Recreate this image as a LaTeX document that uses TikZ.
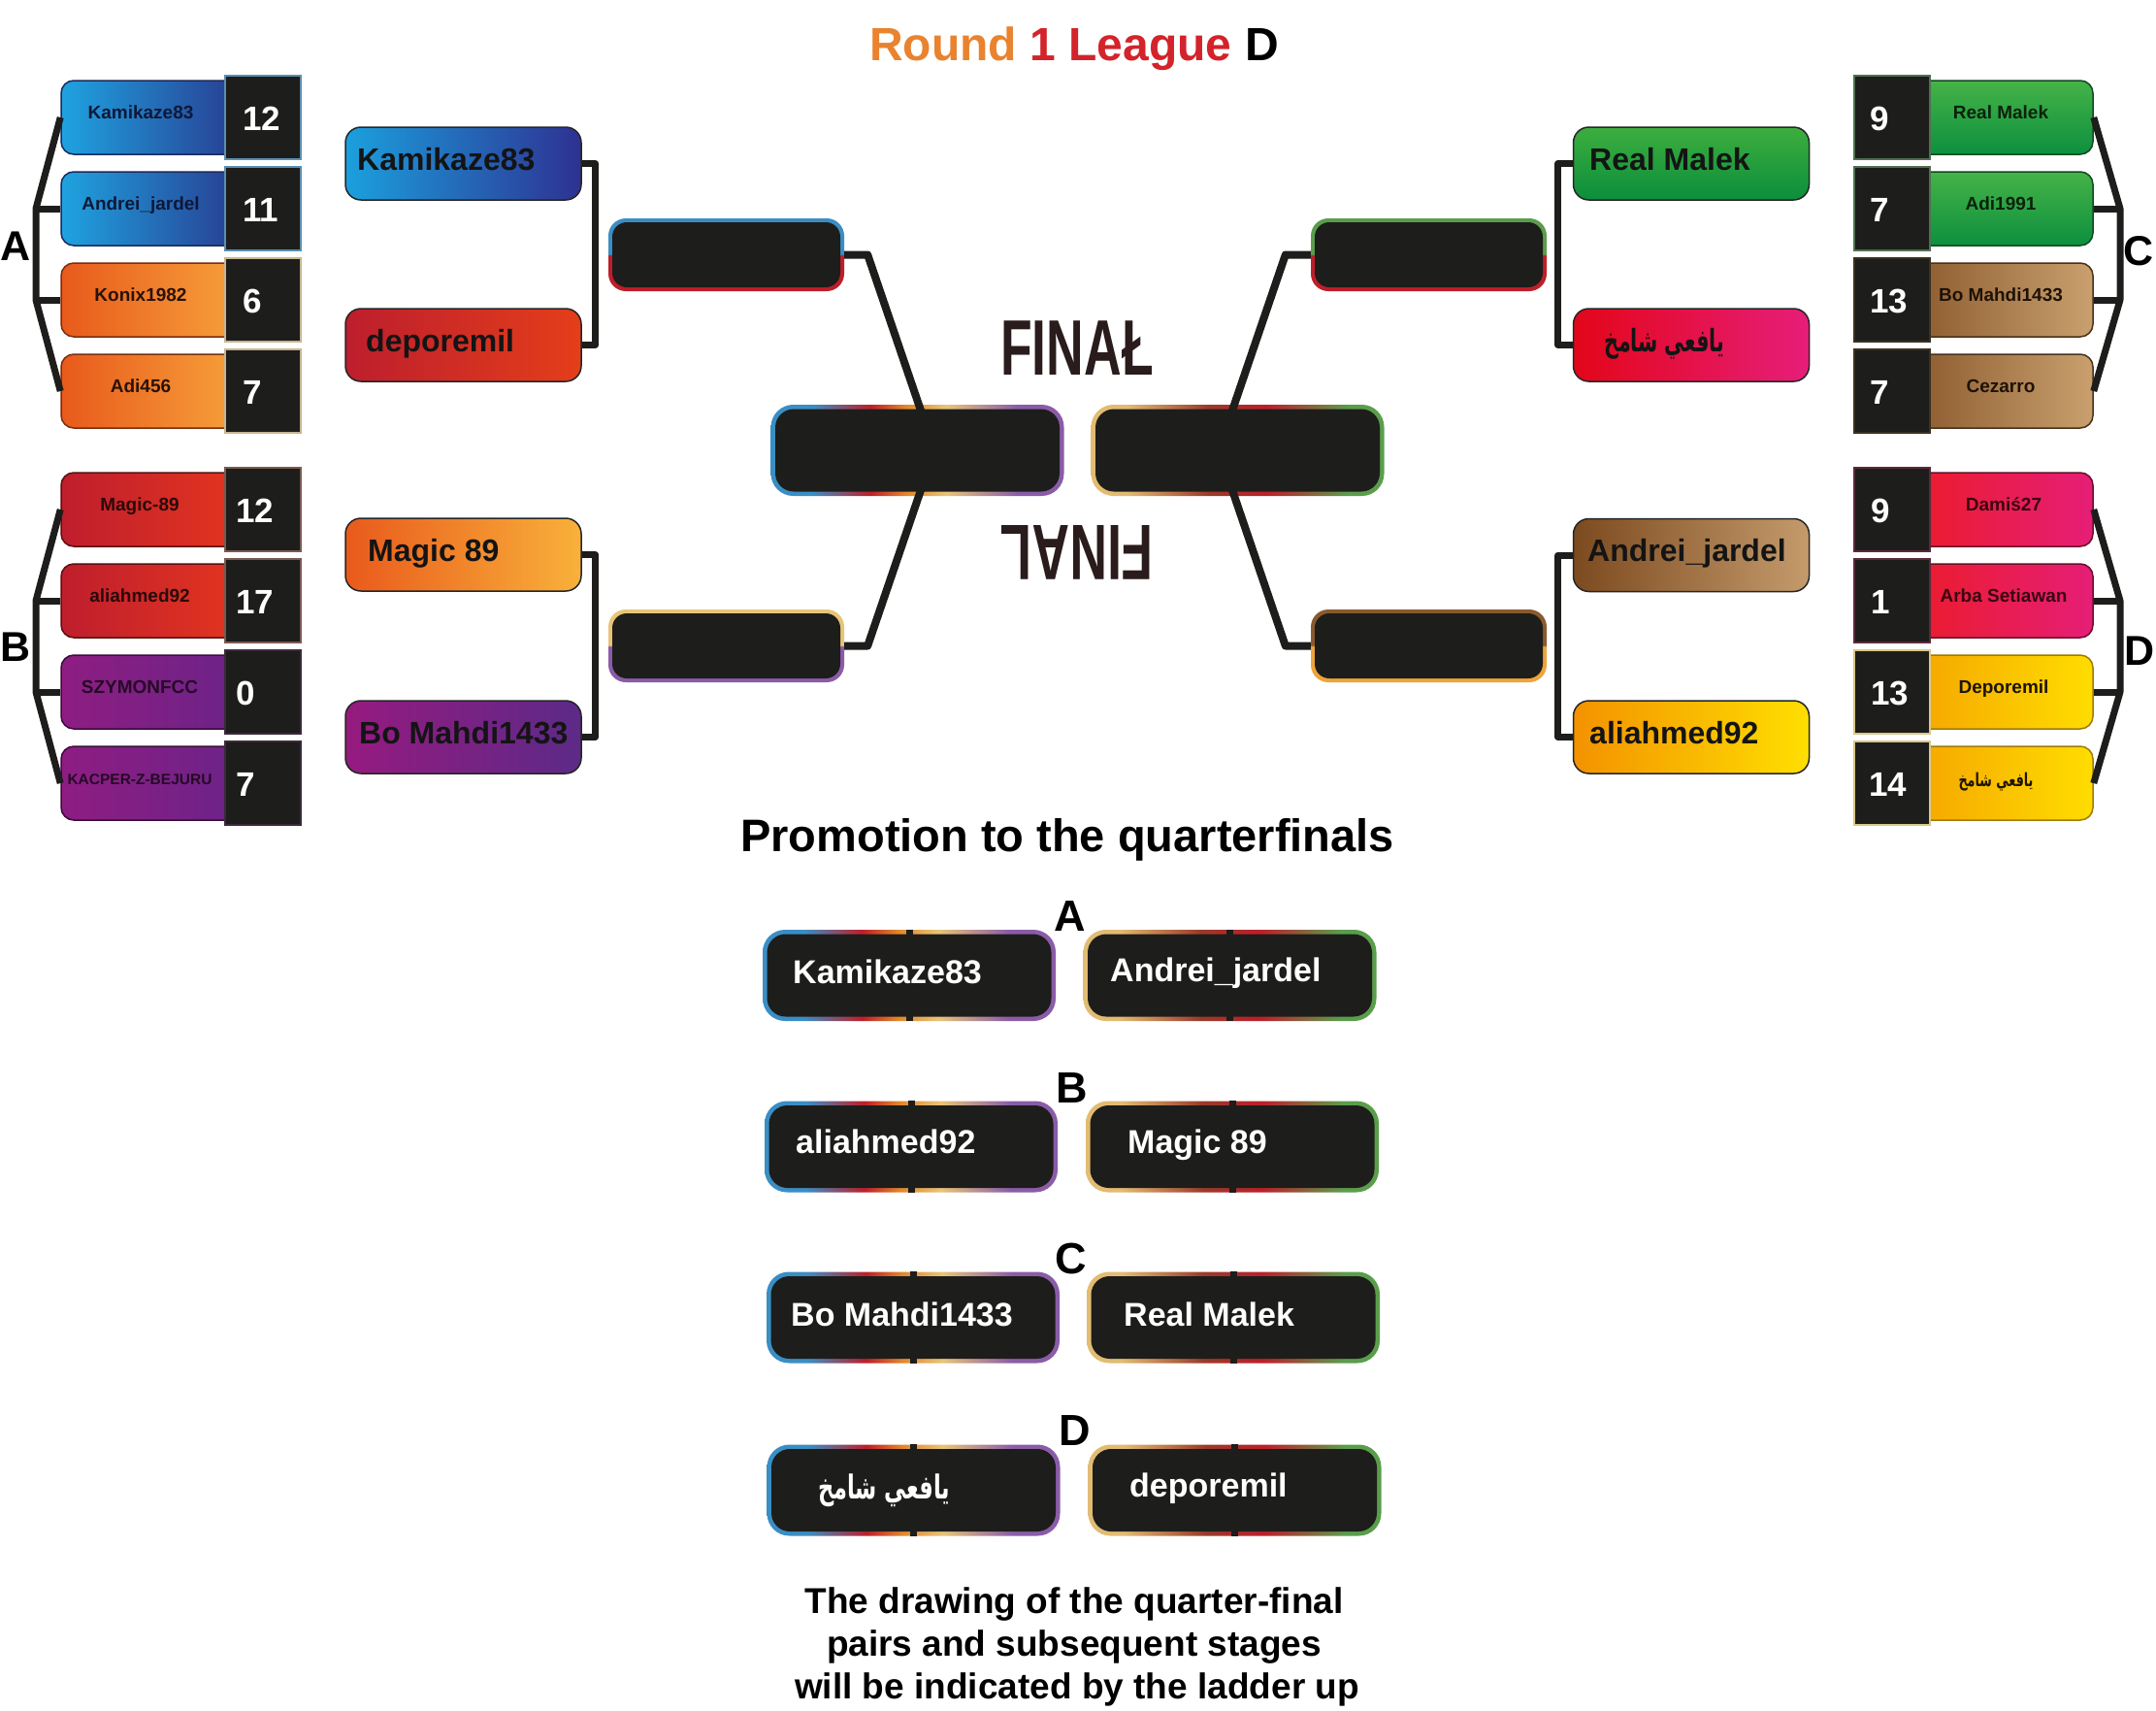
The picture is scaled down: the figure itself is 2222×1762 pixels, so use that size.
\documentclass[tikz,border=0pt]{standalone}
\usepackage{fontspec}
\usepackage{graphicx}
\setmainfont{Liberation Sans}
\newfontfamily\arabicfont[Script=Arabic]{DejaVu Sans}
\TeXXeTstate=1
\usetikzlibrary{calc}
\newcommand\myfs[1]{\fontsize{#1pt}{#1pt}\selectfont}
\newcommand\arname{{\arabicfont\beginR يافعي شامخ\endR}}

\definecolor{boxblack}{HTML}{1D1D1B}
% rims
\definecolor{rBlue}{HTML}{3A8EC4}
\definecolor{rRed}{HTML}{BE1E2A}
\definecolor{rOrange}{HTML}{E2862A}
\definecolor{rGold}{HTML}{E8C478}
\definecolor{rPurple}{HTML}{8A5CA8}
\definecolor{rTan}{HTML}{E2BC72}
\definecolor{rBrRed}{HTML}{9A3A2A}
\definecolor{rGreen}{HTML}{5A9E4B}
\definecolor{rBrown}{HTML}{8A5A2E}
\definecolor{rYell}{HTML}{EEA43A}
% round 1 groups
\definecolor{cA1l}{HTML}{1FA3E0}\definecolor{cA1r}{HTML}{283B90}\definecolor{cA1d}{HTML}{1B2A5C}\definecolor{cA1t}{HTML}{0F1838}\definecolor{cA1s}{HTML}{5B8FB0}
\definecolor{cA2l}{HTML}{E85A1C}\definecolor{cA2r}{HTML}{F7A23B}\definecolor{cA2d}{HTML}{7A2E10}\definecolor{cA2t}{HTML}{2A1208}\definecolor{cA2s}{HTML}{C8B592}
\definecolor{cB1l}{HTML}{BE1E2D}\definecolor{cB1r}{HTML}{E4351F}\definecolor{cB1d}{HTML}{5A1010}\definecolor{cB1t}{HTML}{2A0A0A}\definecolor{cB1s}{HTML}{7A5A50}
\definecolor{cB2l}{HTML}{8E1D82}\definecolor{cB2r}{HTML}{6B2388}\definecolor{cB2d}{HTML}{3A0C3A}\definecolor{cB2t}{HTML}{250A25}\definecolor{cB2s}{HTML}{3A2A3A}
\definecolor{cC1t0}{HTML}{45B347}\definecolor{cC1b0}{HTML}{0D8F3F}\definecolor{cC1d}{HTML}{0E4A20}\definecolor{cC1t}{HTML}{0C220C}\definecolor{cC1s}{HTML}{4F6F4F}
\definecolor{cC2l}{HTML}{8B5A2E}\definecolor{cC2r}{HTML}{C9A06E}\definecolor{cC2d}{HTML}{4A3018}\definecolor{cC2t}{HTML}{1E1206}\definecolor{cC2s}{HTML}{3A3020}
\definecolor{cD1l}{HTML}{EB1C2B}\definecolor{cD1r}{HTML}{E61E77}\definecolor{cD1d}{HTML}{6A0E2A}\definecolor{cD1t}{HTML}{3A0612}\definecolor{cD1s}{HTML}{5A2A3A}
\definecolor{cD2l}{HTML}{F5A500}\definecolor{cD2r}{HTML}{FFDD00}\definecolor{cD2d}{HTML}{A07A00}\definecolor{cD2t}{HTML}{1E1400}\definecolor{cD2s}{HTML}{D8C888}
% round 2
\definecolor{L1l}{HTML}{1BA0DD}\definecolor{L1r}{HTML}{2E3192}
\definecolor{L2l}{HTML}{BD1E2D}\definecolor{L2r}{HTML}{E43E1A}
\definecolor{L3l}{HTML}{E95A1C}\definecolor{L3r}{HTML}{F9B13A}
\definecolor{L4l}{HTML}{961A80}\definecolor{L4r}{HTML}{5C2A87}
\definecolor{R1t}{HTML}{3DAE3E}\definecolor{R1b}{HTML}{0B8E3C}
\definecolor{R2l}{HTML}{E3061A}\definecolor{R2r}{HTML}{E61E79}
\definecolor{R3l}{HTML}{7C4A1F}\definecolor{R3r}{HTML}{C49B6C}
\definecolor{R4l}{HTML}{F39200}\definecolor{R4r}{HTML}{FFDF00}
\definecolor{tOrange}{HTML}{E9832F}
\definecolor{tRed}{HTML}{D3232B}
\definecolor{finc}{HTML}{2A1C1C}

\pgfdeclarehorizontalshading{rimL}{100bp}{color(0bp)=(rBlue); color(32bp)=(rBlue); color(42bp)=(rRed); color(48bp)=(rOrange); color(55bp)=(rGold); color(67bp)=(rPurple); color(100bp)=(rPurple)}
\pgfdeclarehorizontalshading{rimR}{100bp}{color(0bp)=(rTan); color(31bp)=(rTan); color(45bp)=(rBrRed); color(55bp)=(rRed); color(69bp)=(rGreen); color(100bp)=(rGreen)}
\pgfdeclareverticalshading{spML1}{100bp}{color(0bp)=(rRed); color(49.5bp)=(rRed); color(50.5bp)=(rBlue); color(100bp)=(rBlue)}
\pgfdeclareverticalshading{spML2}{100bp}{color(0bp)=(rPurple); color(49.5bp)=(rPurple); color(50.5bp)=(rGold); color(100bp)=(rGold)}
\pgfdeclareverticalshading{spMR1}{100bp}{color(0bp)=(rRed); color(49.5bp)=(rRed); color(50.5bp)=(rGreen); color(100bp)=(rGreen)}
\pgfdeclareverticalshading{spMR2}{100bp}{color(0bp)=(rYell); color(49.5bp)=(rYell); color(50.5bp)=(rBrown); color(100bp)=(rBrown)}

\begin{document}
\begin{tikzpicture}[x=1pt,y=-1pt,
  nbox/.style={rectangle, rounded corners=13pt, minimum width=187pt, minimum height=76pt, inner sep=0pt, line width=1.5pt},
  sbox/.style={rectangle, fill=boxblack, minimum width=78pt, minimum height=86pt, inner sep=0pt, line width=2pt},
  nmtext/.style={anchor=base, inner sep=0pt, font=\myfs{19}\bfseries},
  sctext/.style={anchor=base west, inner sep=0pt, text=white, font=\myfs{35}\bfseries},
  grp/.style={anchor=base, inner sep=0pt, font=\myfs{43}\bfseries},
  brk/.style={draw=boxblack, line width=7pt, line join=round},
  r2box/.style={rectangle, rounded corners=16pt, minimum width=243pt, minimum height=75pt, inner sep=0pt, draw=black!85, line width=1.5pt},
  r2text/.style={anchor=base west, inner sep=0pt, text=black!92, font=\myfs{32}\bfseries},
  inner/.style 2 args={path picture={\fill[boxblack, rounded corners=#2] ($(path picture bounding box.north west)+(#1,-#1)$) rectangle ($(path picture bounding box.south east)+(-#1,#1)$);}},
  midbox/.style={rectangle, rounded corners=18pt, minimum width=243pt, minimum height=75pt, inner sep=0pt, shade, shading=#1, inner={4pt}{15pt}},
  rimbox/.style={rectangle, rounded corners=23pt, minimum width=302pt, minimum height=94pt, inner sep=0pt, shade, shading=#1, inner={4.5pt}{19pt}},
  qtext/.style={anchor=base west, inner sep=0pt, text=white, font=\myfs{34}\bfseries},
  qlet/.style={anchor=base, inner sep=0pt, font=\myfs{45}\bfseries},
  tick/.style={draw=boxblack, line width=7pt},
  gA1/.style={left color=cA1l, right color=cA1r, draw=cA1d}, gA1-s/.style={draw=cA1s}, gA1-t/.style={text=cA1t},
  gA2/.style={left color=cA2l, right color=cA2r, draw=cA2d}, gA2-s/.style={draw=cA2s}, gA2-t/.style={text=cA2t},
  gB1/.style={left color=cB1l, right color=cB1r, draw=cB1d}, gB1-s/.style={draw=cB1s}, gB1-t/.style={text=cB1t},
  gB2/.style={left color=cB2l, right color=cB2r, draw=cB2d}, gB2-s/.style={draw=cB2s}, gB2-t/.style={text=cB2t},
  gC1/.style={top color=cC1t0, bottom color=cC1b0, draw=cC1d}, gC1-s/.style={draw=cC1s}, gC1-t/.style={text=cC1t},
  gC2/.style={left color=cC2l, right color=cC2r, draw=cC2d}, gC2-s/.style={draw=cC2s}, gC2-t/.style={text=cC2t},
  gD1/.style={left color=cD1l, right color=cD1r, draw=cD1d}, gD1-s/.style={draw=cD1s}, gD1-t/.style={text=cD1t},
  gD2/.style={left color=cD2l, right color=cD2r, draw=cD2d}, gD2-s/.style={draw=cD2s}, gD2-t/.style={text=cD2t}
]
\useasboundingbox (0,0) rectangle (2222,1762);
\fill[white] (0,0) rectangle (2222,1762);

% ---------- title
\node[anchor=base, inner sep=0pt, font=\myfs{48}\bfseries] (title) at (1107,62)
  {\textcolor{tOrange}{Round} \textcolor{tRed}{1 League} \textcolor{black}{D}};

% ---------- group A
\foreach \i/\nm/\sc/\st in {1/Kamikaze83/12/gA1,2/Andrei\_jardel/11/gA1,3/Konix1982/6/gA2,4/Adi456/7/gA2}{
  \pgfmathsetmacro\yy{121+(\i-1)*94}
  \node[nbox,\st] (a\i) at (156.5,\yy) {};
  \node[sbox,\st-s] (sa\i) at (271,\yy) {};
  \node[nmtext,\st-t] (na\i) at (145,\yy+1.5) {\nm};
  \node[sctext] (ka\i) at (250,\yy+13) {\sc};
}
\coordinate (aT) at (37,215); \coordinate (aB) at (37,309);
\draw[brk] (a1.west) -- (aT) -- (aB) -- (a4.west);
\draw[brk] (aT) -- (a2.west); \draw[brk] (aB) -- (a3.west);
\node[grp] (gA) at (16,268) {A};

% ---------- group B
\foreach \i/\nm/\sc/\st/\fz in {1/Magic-89/12/gB1/19,2/aliahmed92/17/gB1/19,3/SZYMONFCC/0/gB2/19,4/KACPER-Z-BEJURU/7/gB2/15.5}{
  \pgfmathsetmacro\yy{525+(\i-1)*94}
  \node[nbox,\st] (b\i) at (156.5,\yy) {};
  \node[sbox,\st-s] (sb\i) at (271,\yy) {};
  \node[nmtext,\st-t,font=\myfs{\fz}\bfseries] (nb\i) at (144,\yy+1.5) {\nm};
  \node[sctext] (kb\i) at (243,\yy+13) {\sc};
}
\coordinate (bT) at (37,619); \coordinate (bB) at (37,713);
\draw[brk] (b1.west) -- (bT) -- (bB) -- (b4.west);
\draw[brk] (bT) -- (b2.west); \draw[brk] (bB) -- (b3.west);
\node[grp] (gB) at (16,681) {B};

% ---------- group C
\foreach \i/\nm/\sc/\st in {1/Real Malek/9/gC1,2/Adi1991/7/gC1,3/Bo Mahdi1433/13/gC2,4/Cezarro/7/gC2}{
  \pgfmathsetmacro\yy{121+(\i-1)*94}
  \node[nbox,\st] (c\i) at (2063.5,\yy) {};
  \node[sbox,\st-s] (sc\i) at (1949.5,\yy) {};
  \node[nmtext,\st-t] (nc\i) at (2062,\yy+1.5) {\nm};
  \node[sctext] (kc\i) at (1927,\yy+13) {\sc};
}
\coordinate (cT) at (2185,215); \coordinate (cB) at (2185,309);
\draw[brk] (c1.east) -- (cT) -- (cB) -- (c4.east);
\draw[brk] (cT) -- (c2.east); \draw[brk] (cB) -- (c3.east);
\node[grp] (gC) at (2204,273) {C};

% ---------- group D
\foreach \i/\nm/\sc/\st in {1/Damiś27/9/gD1,2/Arba Setiawan/1/gD1,3/Deporemil/13/gD2}{
  \pgfmathsetmacro\yy{525+(\i-1)*94}
  \node[nbox,\st] (d\i) at (2063.5,\yy) {};
  \node[sbox,\st-s] (sd\i) at (1949.5,\yy) {};
  \node[nmtext,\st-t] (nd\i) at (2065,\yy+1.5) {\nm};
  \node[sctext] (kd\i) at (1928,\yy+13) {\sc};
}
\node[nbox,gD2] (d4) at (2063.5,807) {};
\node[sbox,gD2-s] (sd4) at (1949.5,807) {};
\node[nmtext,gD2-t] (nd4) at (2057,810) {\resizebox*{77pt}{19pt}{\arname}};
\node[sctext] (kd4) at (1926,820) {14};
\coordinate (dT) at (2185,619); \coordinate (dB) at (2185,713);
\draw[brk] (d1.east) -- (dT) -- (dB) -- (d4.east);
\draw[brk] (dT) -- (d2.east); \draw[brk] (dB) -- (d3.east);
\node[grp] (gD) at (2205,685) {D};

% ---------- round 2 left
\node[r2box, left color=L1l, right color=L1r] (L1) at (477.5,168.5) {};
\node[r2box, left color=L2l, right color=L2r] (L2) at (477.5,355.5) {};
\node[r2box, left color=L3l, right color=L3r] (L3) at (477.5,571.5) {};
\node[r2box, left color=L4l, right color=L4r] (L4) at (477.5,759.5) {};
\node[r2text] (tL1) at (368,175) {Kamikaze83};
\node[r2text] (tL2) at (377,362) {deporemil};
\node[r2text] (tL3) at (379,578) {Magic 89};
\node[r2text] (tL4) at (370,766) {Bo Mahdi1433};
\draw[brk] (L1.east) -- ++(14,0) |- (L2.east);
\draw[brk] (L3.east) -- ++(14,0) |- (L4.east);

% ---------- round 2 right
\node[r2box, top color=R1t, bottom color=R1b] (R1) at (1743,168.5) {};
\node[r2box, left color=R2l, right color=R2r] (R2) at (1743,355.5) {};
\node[r2box, left color=R3l, right color=R3r] (R3) at (1743,572) {};
\node[r2box, left color=R4l, right color=R4r] (R4) at (1743,759.5) {};
\node[r2text] (tR1) at (1638,175) {Real Malek};
\node[r2text] (tR2) at (1653,362) {\resizebox*{124pt}{32pt}{\arname}};
\node[r2text] (tR3) at (1636,578) {Andrei\_jardel};
\node[r2text] (tR4) at (1638,766) {aliahmed92};
\draw[brk] (R1.west) -- ++(-15,0) |- (R2.west);
\draw[brk] (R3.west) -- ++(-15,0) |- (R4.west);

% ---------- semifinal boxes
\node[midbox=spML1] (ML1) at (748.5,262.5) {};
\node[midbox=spML2] (ML2) at (748.5,665.5) {};
\node[midbox=spMR1] (MR1) at (1472.5,262.5) {};
\node[midbox=spMR2] (MR2) at (1472.5,665.5) {};

% ---------- final boxes
\node[rimbox=rimL] (FL) at (945.5,464) {};
\node[rimbox=rimR] (FR) at (1275.5,464) {};
\coordinate (FLv) at (963,464);
\coordinate (FRv) at (1256,464);
\draw[brk, line width=8pt] (ML1.east) -- ++(24,0) -- (FLv) -- ($(ML2.east)+(24,0)$) -- (ML2.east);
\draw[brk, line width=8pt] (MR1.west) -- ++(-26,0) -- (FRv) -- ($(MR2.west)+(-26,0)$) -- (MR2.west);

\node[inner sep=0pt, text=finc, font=\myfs{81}\bfseries] (fin1) at (1110,359) {\scalebox{0.66}[1]{FINAŁ}};
\node[inner sep=0pt, text=finc, font=\myfs{81}\bfseries, rotate=180] (fin2) at (1110,569) {\scalebox{0.66}[1]{FINAL}};

% ---------- promotion
\node[anchor=base, inner sep=0pt, font=\myfs{47}\bfseries] (promo) at (1100,877) {Promotion to the quarterfinals};

\node[rimbox=rimL] (QA1) at (937,1005) {};
\node[rimbox=rimR] (QA2) at (1267.5,1005) {};
\node[rimbox=rimL] (QB1) at (939,1181.5) {};
\node[rimbox=rimR] (QB2) at (1270,1181.5) {};
\node[rimbox=rimL] (QC1) at (941,1357.5) {};
\node[rimbox=rimR] (QC2) at (1271,1357.5) {};
\node[rimbox=rimL] (QD1) at (941.5,1535.5) {};
\node[rimbox=rimR] (QD2) at (1272.5,1535.5) {};
\foreach \q in {QA1,QA2,QB1,QB2,QC1,QC2,QD1,QD2}{
  \draw[tick] (\q.north) -- ++(0,6);
  \draw[tick] (\q.south) -- ++(0,-6);
}
\node[qlet] (lA) at (1103,959) {A};
\node[qlet] (lB) at (1105,1136) {B};
\node[qlet] (lC) at (1104,1312) {C};
\node[qlet] (lD) at (1108,1489) {D};

\node[qtext] (qa1) at (817,1013) {Kamikaze83};
\node[qtext] (qa2) at (1144,1011) {Andrei\_jardel};
\node[qtext] (qb1) at (820,1188) {aliahmed92};
\node[qtext] (qb2) at (1162,1188) {Magic 89};
\node[qtext] (qc1) at (815,1366) {Bo Mahdi1433};
\node[qtext] (qc2) at (1158,1366) {Real Malek};
\node[qtext] (qd1) at (843,1544) {\resizebox*{136pt}{34pt}{\arname}};
\node[qtext] (qd2) at (1164,1542) {deporemil};

% ---------- bottom note
\node[anchor=base, inner sep=0pt, font=\myfs{37}\bfseries] (bt1) at (1107,1662) {The drawing of the quarter-final};
\node[anchor=base, inner sep=0pt, font=\myfs{37}\bfseries] (bt2) at (1107,1706) {pairs and subsequent stages};
\node[anchor=base, inner sep=0pt, font=\myfs{37}\bfseries] (bt3) at (1110,1750) {will be indicated by the ladder up};
\end{tikzpicture}
\end{document}
